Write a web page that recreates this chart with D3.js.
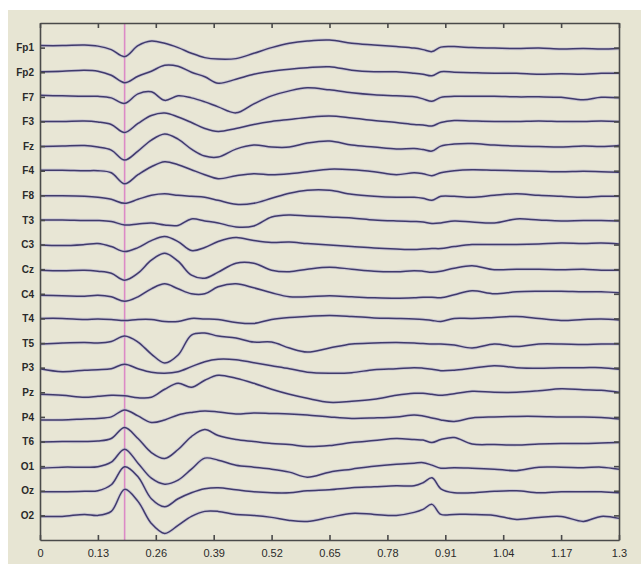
<!DOCTYPE html>
<html><head><meta charset="utf-8">
<script src="https://cdn.jsdelivr.net/npm/d3@7"></script>
<style>html,body{margin:0;padding:0;background:#fff;}svg{display:block;}</style>
</head><body>
<script>
const channels = ["Fp1","Fp2","F7","F3","Fz","F4","F8","T3","C3","Cz","C4","T4","T5","P3","Pz","P4","T6","O1","Oz","O2"];
const times = [0,0.05,0.10,0.13,0.16,0.19,0.22,0.25,0.28,0.31,0.34,0.37,0.40,0.44,0.48,0.52,0.56,0.60,0.65,0.70,0.75,0.80,0.84,0.86,0.88,0.90,0.93,0.97,1.02,1.07,1.12,1.17,1.22,1.26,1.30];
const xTicks = [0,0.13,0.26,0.39,0.52,0.65,0.78,0.91,1.04,1.17,1.3];
const xTickLabels = ["0","0.13","0.26","0.39","0.52","0.65","0.78","0.91","1.04","1.17","1.3"];
const markerTime = 0.19;

const Fp1 = [2,2,2.5,1.5,-2,-9,2,6.5,4.3,0,-5.6,-10,-11.5,-11,-5.7,0,4.3,6.6,7.6,4.3,2.6,1,-0.5,-2,-4,0.5,1,0,-0.5,-1,-0.5,-1.5,-1,-1.5,-1];
const Fp2 = [0.5,1,2,1,-3,-10.5,-4,1,7,6,0,-4.5,-11,-7,-2,1,3,4.5,5.5,2,0.5,0.5,-1,-2,-3.5,0.5,0,-0.5,-1,-1,-2,-1.5,-2,-1,-1];
const F7 = [1.5,1,0.5,0.5,-1,-6.5,3,5,-3.5,1,-1,-5,-10,-16,-7,1,6,9,7,4,2,1,0,-2,-4.5,-0.5,0.5,0.5,0.5,0,0,-0.5,-3,-0.5,-1];
const F3 = [0,0,0.5,-0.5,-3,-11,-2,6,8.5,4.5,-1,-7,-10,-7,-3,0,2,4,5.5,3.5,1,-1,-3,-3.5,-4.5,-1,1,0.5,0,0,0.5,0,0,0.5,0];
const Fz = [-0.5,0,0.5,-1,-4,-14,-5,6,12,7,-3,-10,-11,-3,1,-1,-1,3,5,1,-1,-3,-2.5,-3.5,-5,0,2,2.5,1,0,-0.5,-1,0,-0.5,0.5];
const F4 = [0.5,0.5,0,0,-2,-13,-4,4,9,6,1,-4,-8,-5,-3,-4,-3,-1,1.5,1,-1,-4,-2,-3,-5,-2,0,1,0.5,0,-0.5,-1,-0.5,-1,-1.5];
const F8 = [-0.5,-0.5,-1,-2,-4,-8,-4,0,1.5,0,-1,-2,-5,-9,-8,-3,2,5,5,1,-1,-2,-2,-3,-5,-1,-1,-2,0,1.5,0,-1,-2,-1,-1];
const T3 = [0,0,-0.5,-0.5,-1.5,-5,-4,-3,-5,-5.5,1,-1,-3,-7,-6,3,5,4,3,2,0,-1,-1.5,-2,-3.5,-3,-1,-2,-3,1,0,-1,-0.5,-0.5,-1];
const C3 = [-0.5,-1,0,1,-2,-7,-3,4,8,3,-6,-3,3,7,4,2,2.5,1,-0.5,-2,-3.5,-4.5,-5,-4.5,-4,-4,-2,0,0,0,0.5,1.5,1,1.5,0.5];
const Cz = [-1,-1.5,-1,-2,-4,-11,-4,9,16,8,-6,-9,-3,6,6,-1,-2.5,0,2,0,-2,-2.5,-1.5,-2,-3,-2,1,3.5,-0.5,0,0,-0.5,0,-1,-1];
const C4 = [-1.5,-2,-2.5,-1.5,-3,-7.5,-3,5,10,5,0,0,7,10,6,1,-3,-3,-2,-3,-4,-4.5,-4,-3.5,-3.5,-4,-1,3,0,2,2.5,2.5,2,2,1];
const T4 = [0,0,-1,-0.5,-1,-2,-1,-1,-3,-3,0,-0.5,-1,-4,-5,-1,1,2,3,2,0.5,0,-0.5,-1,-2,-3,0,0,1,2,0,-2,-1,-0.5,-1.5];
const T5 = [-1,0,0.5,0,1.5,7,1,-11,-20,-12,8,10,7,5,1,1,-5,-9,-5,-1,0,0.5,0,-0.5,-1,-1,-2,-5,-1,-3.5,-1,-1,-1.5,-1,-1];
const P3 = [-1,-4,-2.5,-2,-1,3.5,-1,-4.5,-5.5,-4,1,6,8.5,8,5,2,-1,-4.5,-5.5,-5,-2,-1,0,-0.5,-1.5,-3,-2.5,-0.5,2,0,-0.5,0,0,0,-1.5];
const Pz = [-2,-3,-5,-4,-3,-3.5,-5.5,-5,3,9,5,12,17,14,9,3,-2,-6,-10,-9,-7,-3,-1,-1,-2,-3,-1.5,1,0,0,1.5,3.5,2.5,2,0];
const P4 = [-3,-3,-2,-1.5,0,7,1,-5.5,-3,2,4.5,6,5,3,4,3.5,3,2,0,-1.5,-1,0,2,1,-1,-3,-4.5,-1,0,0.5,0.5,0,0,-0.5,-2];
const T6 = [-0.5,0,0,0.5,3,14,3,-11,-17,-8,5,12,6,2,0,-2,-3,-5,-4,-1,1,3,2,1.5,-1,2,4,-2.5,-3,-3.5,-2.5,-2,-2,-1.5,-1];
const O1 = [-2,-1,-1,-0.5,4,17,3,-12,-18,-14,-3,8,6,1,-1,-3,-6,-11,-6,-3,0,2,3,3.5,1,-2,-1.5,-2,-3,-4.5,-1,-1,-1.5,-1,-3];
const Oz = [-1,-1,-0.5,0,6,24,14,-8,-16,-8,-2,2,3,1,-1,-2,-2,0,1,3,4,5,5,8,13,2,-2,-2,-0.5,0,-2,-1,-1,-1,-2];
const O2 = [-1,-1,1,0,4,26,14,-8,-18,-10,-1,4,4,1,0,-2,-5,-6,-2,2,1,0,3,6,11,1,1,1,0,-4,-2,-1,-6,-1,-3];

const traces = [Fp1,Fp2,F7,F3,Fz,F4,F8,T3,C3,Cz,C4,T4,T5,P3,Pz,P4,T6,O1,Oz,O2];

const W = 641, H = 564;
const m = {left:40, right:619, top:23, bottom:540};

const svg = d3.select("body").append("svg").attr("width", W).attr("height", H);
svg.append("rect").attr("x",0).attr("y",0).attr("width",W).attr("height",H).attr("fill","#ffffff");
svg.append("rect").attr("x",8).attr("y",10).attr("width",W-8).attr("height",H-10).attr("fill","#e7e5d3");

const x = d3.scaleLinear().domain([0,1.3]).range([m.left, m.right]);
const y = d3.scalePoint().domain(channels).range([m.top, m.bottom]).padding(1);
const amp = d3.scaleLinear().domain([-30,30]).range([30,-30]);

svg.append("rect").attr("x",m.left).attr("y",m.top).attr("width",m.right-m.left).attr("height",m.bottom-m.top)
  .attr("fill","#e8e6d5");

svg.append("line").attr("x1",x(markerTime)).attr("x2",x(markerTime))
  .attr("y1",m.top).attr("y2",m.bottom)
  .attr("stroke","#db8ac6").attr("stroke-width",1.6);

const line = d3.line().x(d=>x(d[0])).y(d=>d[1]).curve(d3.curveCatmullRom.alpha(0.5));

const g = svg.append("g");
channels.forEach((ch,i)=>{
  const pts = times.map((t,k)=>[t, y(ch) + amp(traces[i][k])]);
  g.append("path").attr("d", line(pts)).attr("fill","none")
    .attr("stroke","#b3aed0").attr("stroke-width",3.2).attr("stroke-opacity",0.55).attr("stroke-linejoin","round");
  g.append("path").attr("d", line(pts)).attr("fill","none")
    .attr("stroke","#403a6c").attr("stroke-width",1.5).attr("stroke-linejoin","round");
});

const axisColor = "#4a4a4a";
const axB = d3.axisBottom(x).tickValues(xTicks).tickFormat((d,i)=>xTickLabels[i]).tickSizeInner(-5).tickSizeOuter(0).tickPadding(9);
const axT = d3.axisTop(x).tickValues(xTicks).tickFormat("").tickSizeInner(-5).tickSizeOuter(0);
const axL = d3.axisLeft(y).tickSizeInner(-5).tickSizeOuter(0).tickPadding(6);
const axR = d3.axisRight(y).tickFormat("").tickSizeInner(-5).tickSizeOuter(0);

function style(sel, size, weight){
  sel.selectAll("path.domain").attr("stroke",axisColor).attr("stroke-width",1.6);
  sel.selectAll(".tick line").attr("stroke",axisColor).attr("stroke-width",1.6);
  sel.selectAll("text").attr("fill","#2a2a2a").attr("font-family","'Liberation Sans', Arial, sans-serif")
    .attr("font-size",size).attr("font-weight",weight);
}
style(svg.append("g").attr("transform",`translate(0,${m.bottom})`).call(axB), "11px", "normal");
style(svg.append("g").attr("transform",`translate(0,${m.top})`).call(axT), "11px", "normal");
style(svg.append("g").attr("transform",`translate(${m.left},0)`).call(axL), "10px", "bold");
style(svg.append("g").attr("transform",`translate(${m.right},0)`).call(axR), "10px", "normal");
</script>
</body></html>
